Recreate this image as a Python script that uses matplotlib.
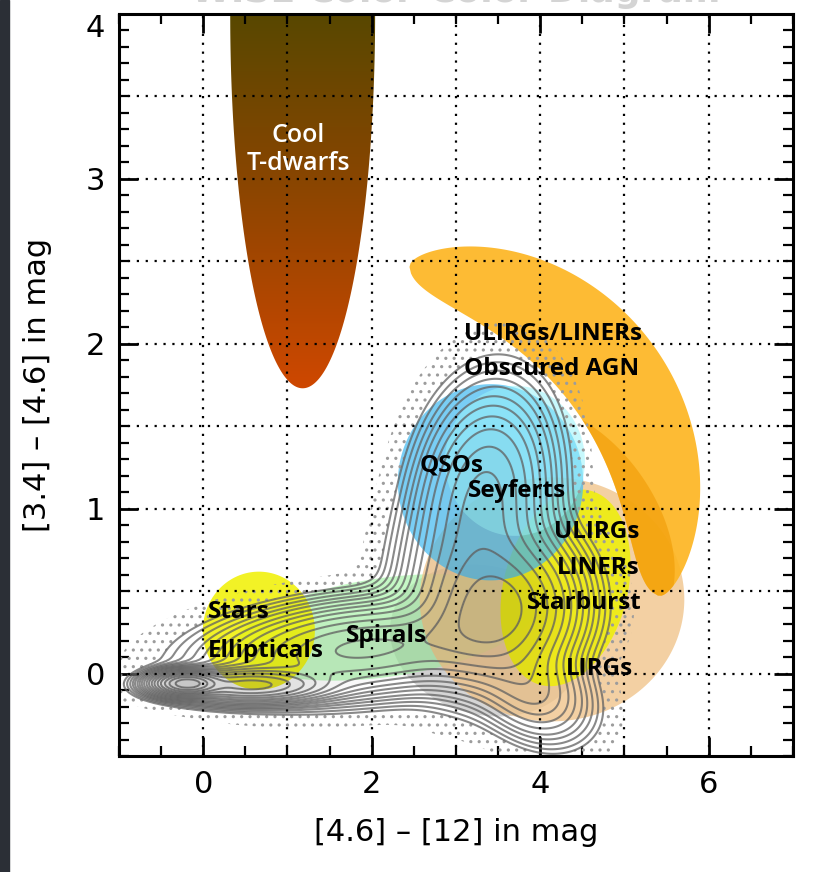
import numpy as np
import matplotlib.pyplot as plt
from matplotlib.colors import LinearSegmentedColormap
from matplotlib.patches import Polygon, Rectangle
from matplotlib.ticker import MultipleLocator
from matplotlib.transforms import ScaledTranslation

# source density: gaussian pieces (centre, widths, correlation, weight)
comp_x   = [-0.2, 0.55, 1.9, 3.5, 3.35, 3.9, 3.2]
comp_y   = [-0.06, -0.07, 0.15, 0.38, 1.15, -0.1, 0.7]
comp_sx  = [0.19, 0.45, 0.85, 0.45, 0.38, 0.35, 0.42]
comp_sy  = [0.035, 0.05, 0.14, 0.22, 0.30, 0.16, 0.3]
comp_rho = [0.0, 0.0, 0.25, 0.1, 0.15, -0.3, 0.2]
comp_w   = [3.0, 1.0, 0.35, 0.5, 0.2, 0.12, 0.15]

contour_levels = [0.002, 0.003, 0.0045, 0.0065, 0.009, 0.013, 0.018, 0.025,
                  0.035, 0.05, 0.07, 0.1, 0.14, 0.2, 0.28, 0.4, 0.56, 0.78]
dot_level = 0.0003

# object classes: centre, semi-axes (x units, y units), tilt in degrees
region_names = ['gray', 'Spirals', 'LIRGs', 'ULIRGs', 'Starburst', 'Stars',
                'QSOs', 'Seyferts']
region_cx    = [3.35, 2.16, 4.14, 4.415, 4.30, 0.66, 3.41, 3.70]
region_cy    = [0.20, 0.28, 0.45, 0.927, 0.52, 0.26, 1.16, 1.29]
region_rx    = [1.15, 1.78, 1.57, 1.543, 1.19, 0.665, 1.10, 0.83]
region_ry    = [0.45, 0.30, 0.74, 0.485, 0.376, 0.358, 0.595, 0.455]
region_ang   = [-15, 8, 0, -54.7, 75.6, 0, 0, 0]
# obscured AGN arc: centre, end angles, end radii, outer / inner swell
agn_arc = dict(cx=2.596, cy=1.022, phi_a=-21, phi_b=93, r_a=3.0, r_b=2.83,
               h_out=0.42, h_in=0.78)
# T dwarf tongue
tdwarf = (1.18, 4.0, 0.86, 2.27, 0)

region_style = {
    'gray':        ('#b4b4b4', 0.55, 2.0),
    'Spirals':     ('#a6f5a6', 0.65, 2.1),
    'LIRGs':       ('#f0c184', 0.75, 2.2),
    'ObscuredAGN': ('#fdb522', 0.92, 2.3),
    'ULIRGs':      ('#ef9800', 0.55, 2.4),
    'Starburst':   ('#eef000', 0.82, 2.5),
    'Stars':       ('#f0f000', 0.85, 2.6),
    'QSOs':        ('#4cbef2', 0.75, 2.7),
    'Seyferts':    ('#9af4fa', 0.55, 2.8),
}

labels = [('ULIRGs/LINERs', 3.09, 2.06), ('Obscured AGN', 3.09, 1.85),
          ('QSOs', 2.57, 1.26), ('Seyferts', 3.14, 1.11),
          ('ULIRGs', 4.16, 0.86), ('LINERs', 4.20, 0.64),
          ('Starburst', 3.84, 0.425), ('LIRGs', 4.30, 0.025),
          ('Spirals', 1.69, 0.225), ('Stars', 0.05, 0.376),
          ('Ellipticals', 0.05, 0.134)]

XMIN, XMAX, YMIN, YMAX = -1, 7, -0.5, 4
AX_W, AX_H = 674, 742
K = (AX_H / (YMAX - YMIN)) / (AX_W / (XMAX - XMIN))


def blob(cx, cy, rx, ry, ang, n=300):
    t = np.linspace(0, 2 * np.pi, n)
    a = np.deg2rad(ang)
    u = rx * np.cos(t)
    v = ry * K * np.sin(t)
    x = cx + u * np.cos(a) - v * np.sin(a)
    y = cy + (u * np.sin(a) + v * np.cos(a)) / K
    return x, y


def arc_band(cx, cy, phi_a, phi_b, r_a, r_b, h_out, h_in, n=400):
    phi = np.linspace(phi_a, phi_b, n)
    s = (2 * phi - phi_a - phi_b) / (phi_b - phi_a)
    rm = r_a + (r_b - r_a) * (phi - phi_a) / (phi_b - phi_a)
    swell = np.sqrt(np.clip(1 - s ** 2, 0, None))
    r = np.concatenate([rm + h_out * swell, (rm - h_in * swell)[::-1]])
    ph = np.deg2rad(np.concatenate([phi, phi[::-1]]))
    return cx + r * np.cos(ph), cy + r * np.sin(ph) / K


fig = plt.figure(figsize=(8.37, 8.72), dpi=100)
ax = fig.add_axes([119 / 837, 116 / 872, AX_W / 837, AX_H / 872])
ax.set_xlim(XMIN, XMAX)
ax.set_ylim(YMIN, YMAX)

# density field
gx = np.linspace(XMIN, XMAX, 640)
gy = np.linspace(YMIN, YMAX, 540)
X, Y = np.meshgrid(gx, gy)
dens = np.zeros_like(X)
for x0, y0, sx, sy, rho, w in zip(comp_x, comp_y, comp_sx, comp_sy, comp_rho, comp_w):
    dx = (X - x0) / sx
    dy = (Y - y0) / sy
    q = (dx ** 2 - 2 * rho * dx * dy + dy ** 2) / (1 - rho ** 2)
    dens += w * np.exp(-0.5 * q)
dens /= dens.max()

# cool T dwarfs with a vertical colour ramp
tx, ty = blob(*tdwarf)
tpatch = Polygon(np.column_stack([tx, ty]), closed=True, fc='none', ec='none')
ax.add_patch(tpatch)
ramp = LinearSegmentedColormap.from_list(
    'tdw', [(0.0, '#d04800'), (0.55, '#8a4500'), (1.0, '#584800')])
grad = np.linspace(0, 1, 256).reshape(-1, 1)
im = ax.imshow(grad, extent=[0.2, 2.2, 1.7, 4.0], origin='lower', cmap=ramp,
               aspect='auto', zorder=1.5)
im.set_clip_path(tpatch)

# obscured AGN arc
bx, by = arc_band(**agn_arc)
col, alpha, z = region_style['ObscuredAGN']
agn_patch = Polygon(np.column_stack([bx, by]), closed=True, fc=col, alpha=alpha,
                    lw=0, zorder=z)
ax.add_patch(agn_patch)

# other class regions
for name, cx, cy, rx, ry, ang in zip(region_names, region_cx, region_cy,
                                     region_rx, region_ry, region_ang):
    col, alpha, z = region_style[name]
    ex, ey = blob(cx, cy, rx, ry, ang)
    poly = ax.fill(ex, ey, color=col, alpha=alpha, lw=0, zorder=z)[0]
    if name == 'ULIRGs':
        poly.set_clip_path(agn_patch)

# scattered sources beyond the outer contour
plt.rcParams['hatch.color'] = '#9c9c9c'
plt.rcParams['hatch.linewidth'] = 1.1
ax.contourf(X, Y, dens, levels=[dot_level, contour_levels[0]], colors='none',
            hatches=['..'], zorder=3.2)

# darker cores
shade = [(0, 0, 0, 0.022 * (i + 1)) for i in range(len(contour_levels) - 8)]
ax.contourf(X, Y, dens, levels=contour_levels[8:] + [1.01], colors=shade, zorder=3.3)

ax.contour(X, Y, dens, levels=contour_levels, colors='#626262', linewidths=1.5,
           alpha=0.75, zorder=3.5)

# dotted grid
for gxv in range(0, 7):
    ax.axvline(gxv, color='k', ls=(0, (1, 3)), lw=1.6, zorder=6)
for gyv in np.arange(0, 4, 0.5):
    ax.axhline(gyv, color='k', ls=(0, (1, 3)), lw=1.6, zorder=6)

ax.text(1.13, 3.18, 'Cool\nT-dwarfs', color='white', ha='center', va='center',
        fontsize=18, family='Open Sans', fontweight='semibold', linespacing=1.15,
        zorder=7)
for txt, lx, ly in labels:
    ax.text(lx, ly, txt, color='black', ha='left', va='center', fontsize=17.5,
            family='Open Sans', fontweight='bold', zorder=7)

ax.set_xticks([0, 2, 4, 6])
ax.xaxis.set_minor_locator(MultipleLocator(0.5))
ax.set_yticks([0, 1, 2, 3, 4])
ax.yaxis.set_minor_locator(MultipleLocator(0.1))
ax.tick_params(which='both', direction='in', top=True, right=True, labelsize=22)
ax.tick_params(which='major', length=14, width=2, pad=10)
ax.tick_params(which='minor', length=7, width=1.6)
for sp in ax.spines.values():
    sp.set_linewidth(2.2)
    sp.set_zorder(8)

ax.set_xlabel('[4.6] – [12] in mag', fontsize=22, labelpad=14)
ax.set_ylabel('[3.4] – [4.6] in mag', fontsize=22, labelpad=24)

for lab in ax.get_yticklabels():
    if lab.get_text() == '4':
        lab.set_transform(lab.get_transform() + ScaledTranslation(0, -8 / 72, fig.dpi_scale_trans))

# header that runs off the top edge, plus the dark strip on the left
fig.text(0.544, 1 - 2 / 872, 'WISE Color-Color Diagram', ha='center', va='baseline',
         fontsize=26, fontweight='bold', color='#d4d4d4')
fig.patches.append(Rectangle((0, 0), 9 / 837, 1, transform=fig.transFigure,
                             color='#2b2f36', zorder=0))

fig.savefig('out.png', dpi=100)
